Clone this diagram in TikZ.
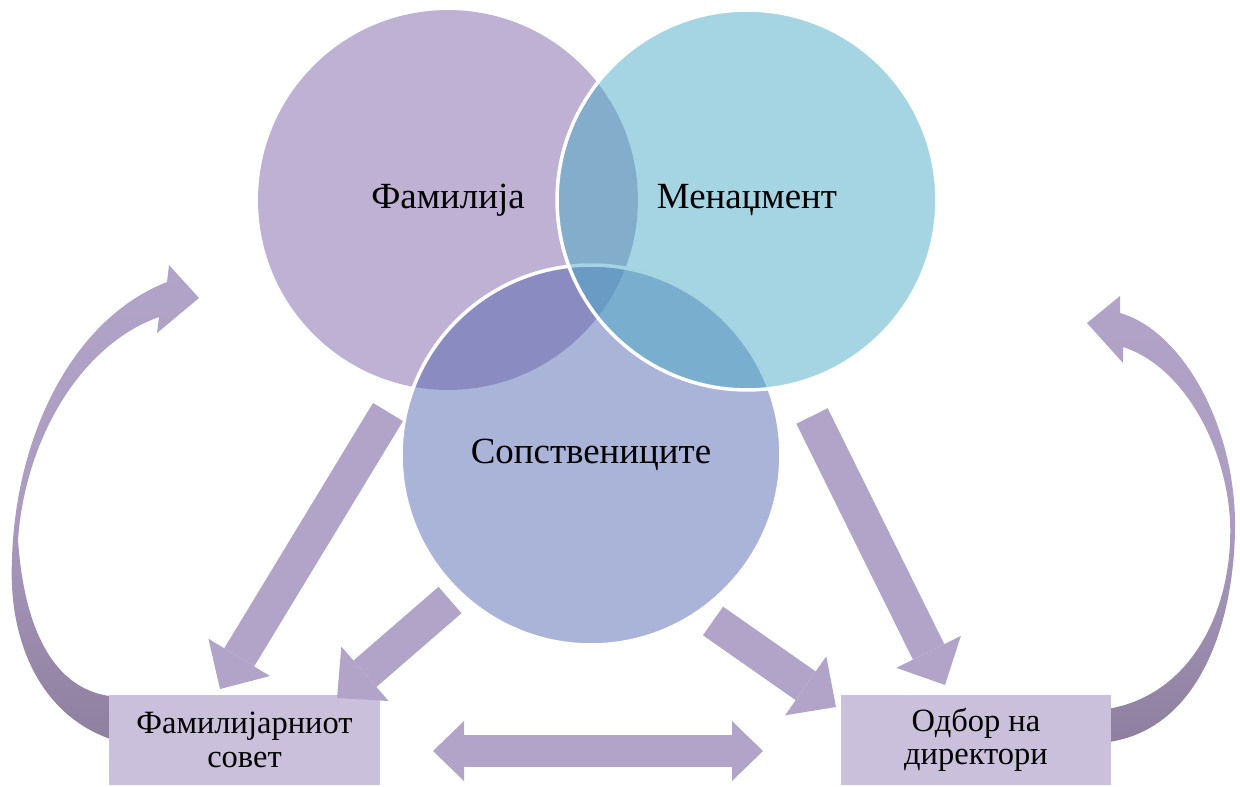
\documentclass[tikz,border=0pt]{standalone}
\usepackage{fontspec}
\setmainfont{Liberation Serif}
\usetikzlibrary{arrows.meta}

\definecolor{famcol}{HTML}{BFB1D3}
\definecolor{owncol}{HTML}{5567B1}
\definecolor{mgmtcol}{HTML}{4BABC7}
\definecolor{boxcol}{HTML}{CAC0DB}
\definecolor{arrcol}{HTML}{B2A3C8}
\definecolor{darkarr}{HTML}{8E7FA0}

\begin{document}
\begin{tikzpicture}[x=0.02cm, y=-0.02cm,
  ring/.style={circle, minimum size=7.6cm, inner sep=0pt, font=\fontsize{21}{25}\selectfont},
  seethru/.style={fill opacity=0.5, text opacity=1, draw=white, line width=2pt},
  council/.style={fill=boxcol, minimum width=5.42cm, minimum height=1.8cm, align=center,
    font=\fontsize{18.5}{19}\selectfont},
  bigarr/.style={draw=arrcol, line width=0.7cm,
    -{Triangle[length=0.74cm, width=1.44cm, line width=0pt]}},
  twoarr/.style={draw=arrcol, line width=0.64cm,
    {Triangle[length=0.62cm, width=1.2cm, line width=0pt]}-{Triangle[length=0.62cm, width=1.2cm, line width=0pt]}}]
\useasboundingbox (0,0) rectangle (1240,787);

% curved arrows behind the boxes
\shade[top color=arrcol, bottom color=darkarr, middle color=arrcol!80!darkarr]
  (120,742) .. controls (40,720) and (8,640) .. (12,560)
  .. controls (15,440) and (70,320) .. (167,282)
  -- (169,265) -- (199,298) -- (157,333) -- (159,317)
  .. controls (80,345) and (25,440) .. (18,540)
  .. controls (25,640) and (60,695) .. (120,697) -- cycle;
\shade[top color=arrcol, bottom color=darkarr, middle color=arrcol!80!darkarr]
  (1100,743) .. controls (1200,735) and (1236,620) .. (1235,520)
  .. controls (1233,420) and (1180,330) .. (1120,313)
  -- (1120,296) -- (1087,323) -- (1123,363) -- (1123,347)
  .. controls (1180,365) and (1225,440) .. (1230,520)
  .. controls (1234,610) and (1190,700) .. (1100,710) -- cycle;

% the three circles
\node[ring, fill=famcol] (fam) at (448,200) {Фамилија};
\node[ring, seethru, fill=owncol] (own) at (591,455) {Сопствениците};
\node[ring, seethru, fill=mgmtcol] (mgmt) at (747,200) {Менаџмент};

% the two boards
\node[council] (fc) at (244.5,740) {Фамилијарниот\\совет};
\node[council] (bd) at (976,740) {Одбор на\\директори};

\coordinate (a1s) at (388,412);
\coordinate (a1e) at (220,689);
\coordinate (a2s) at (450,600);
\coordinate (a2e) at (337,698);
\coordinate (a3s) at (713,621);
\coordinate (a3e) at (836,707);
\coordinate (a4s) at (812,416);
\coordinate (a4e) at (945,685);
\coordinate (dl) at (433,751);
\coordinate (dr) at (763,751);

\draw[bigarr] (a1s) -- (a1e);
\draw[bigarr] (a2s) -- (a2e);
\draw[bigarr] (a3s) -- (a3e);
\draw[bigarr] (a4s) -- (a4e);
\draw[twoarr] (dl) -- (dr);
\end{tikzpicture}
\end{document}
